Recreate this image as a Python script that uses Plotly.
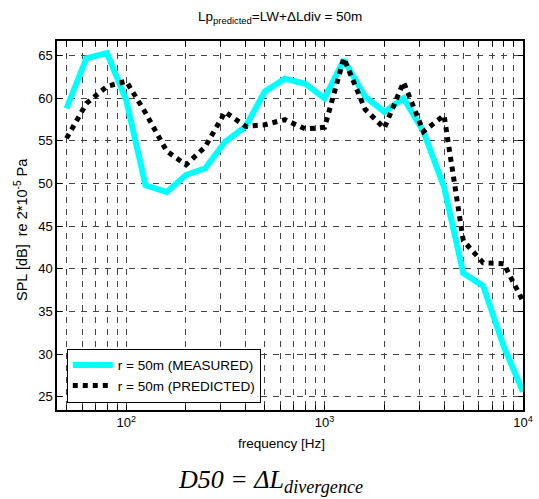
import plotly.graph_objects as go

freq = [50, 63, 80, 100, 125, 160, 200, 250, 315, 400, 500, 630, 800, 1000,
        1250, 1600, 2000, 2500, 3150, 4000, 5000, 6300, 8000, 10000]
measured = [58.8, 64.7, 65.3, 59.8, 49.8, 49.0, 51.0, 51.8, 54.9, 56.7, 60.8, 62.3,
            61.7, 60.0, 64.5, 60.2, 58.4, 60.0, 56.1, 49.6, 39.5, 38.0, 30.9, 25.6]
predicted = [55.3, 59.4, 61.4, 62.0, 58.3, 53.8, 52.2, 54.3, 58.4, 56.7, 56.9, 57.5,
             56.4, 56.6, 64.7, 58.7, 56.5, 61.9, 56.1, 58.0, 43.3, 40.7, 40.6, 36.2]

x_major = [100, 1000, 10000]
x_major_labels = ["10<sup>2</sup>", "10<sup>3</sup>", "10<sup>4</sup>"]
x_minor = [m * 10 ** e for e in (1, 2, 3) for m in range(2, 10) if m * 10 ** e >= 45]
y_ticks = [25, 30, 35, 40, 45, 50, 55, 60, 65]

FONT = "Liberation Sans, Arial, sans-serif"
GRID = dict(showgrid=True, gridcolor="#444", gridwidth=1, griddash="6px,6px")

fig = go.Figure()
fig.add_trace(go.Scatter(x=freq, y=measured, mode="lines", name="r = 50m (MEASURED)",
                         line=dict(color="#00FFFF", width=6)))
fig.add_trace(go.Scatter(x=freq, y=predicted, mode="lines", name="r = 50m (PREDICTED)",
                         line=dict(color="black", width=5, dash="dot")))

fig.update_layout(
    width=539, height=499,
    margin=dict(l=57, r=16, t=41, b=89, autoexpand=False),
    paper_bgcolor="white", plot_bgcolor="white",
    font=dict(family=FONT, size=13, color="black"),
    showlegend=True,
    legend=dict(x=0.021, y=0.02, xanchor="left", yanchor="bottom",
                bordercolor="black", borderwidth=1, bgcolor="white",
                font=dict(family=FONT, size=13.5, color="black"),
                tracegroupgap=0, itemwidth=40),
    xaxis=dict(type="log", range=[1.651, 4.0], tickmode="array",
               tickvals=x_major, ticktext=x_major_labels, automargin=False,
               ticks="inside", ticklen=5, tickcolor="black", mirror="ticks",
               showline=True, linecolor="black", linewidth=1.5,
               zeroline=False, tickfont=dict(family=FONT, size=13),
               minor=dict(tickmode="array", tickvals=x_minor, ticks="inside",
                          ticklen=5, tickcolor="black", **GRID),
               **GRID),
    yaxis=dict(range=[23.44, 66.72], tickmode="array", tickvals=y_ticks, automargin=False,
               ticks="inside", ticklen=5, tickcolor="black", mirror="ticks",
               showline=True, linecolor="black", linewidth=1.5,
               zeroline=False, tickfont=dict(family=FONT, size=13),
               **GRID),
)

fig.add_annotation(text="Lp<sub>predicted</sub>=LW+ΔLdiv = 50m", xref="paper", yref="paper",
                   x=(280 - 57) / 466, y=1 + (41 - 18) / 369, xanchor="center", yanchor="middle",
                   showarrow=False, font=dict(family=FONT, size=13.5))
fig.add_annotation(text="frequency [Hz]", xref="paper", yref="paper",
                   x=(281 - 57) / 466, y=-(443 - 410) / 369, xanchor="center", yanchor="middle",
                   showarrow=False, font=dict(family=FONT, size=13.5))
fig.add_annotation(text="SPL [dB]  re 2*10<sup>-5</sup> Pa", xref="paper", yref="paper",
                   x=(21 - 57) / 466, y=(410 - 230) / 369, xanchor="center", yanchor="middle",
                   textangle=-90, showarrow=False, font=dict(family=FONT, size=14.5))
fig.add_annotation(text="<i>D50 = ΔL<sub>divergence</sub></i>", xref="paper", yref="paper",
                   x=(270 - 57) / 466, y=-(481 - 410) / 369, xanchor="center", yanchor="middle",
                   showarrow=False,
                   font=dict(family="Liberation Serif, Times New Roman, serif", size=26))

fig.write_html("out.html", config={"displayModeBar": False},
               post_script="document.body.style.margin='0';")
